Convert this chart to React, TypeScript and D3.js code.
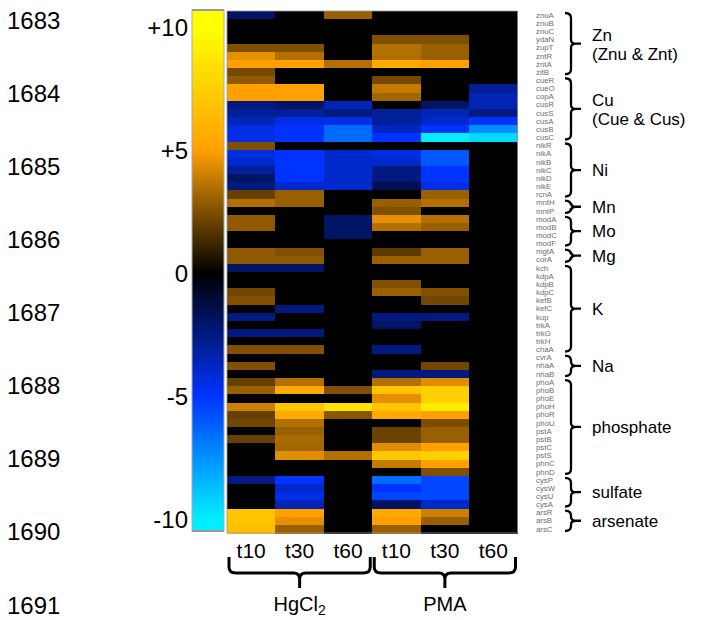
import React from "react";
import * as d3 from "d3";

// gene rows, top to bottom
const genes = [
  "znuA", "znuB", "znuC", "ydaN", "zupT", "zntR", "zntA", "zitB",
  "cueR", "cueO", "copA", "cusR", "cusS", "cusA", "cusB", "cusC",
  "nikR", "nikA", "nikB", "nikC", "nikD", "nikE", "rcnA",
  "mntH", "mntP",
  "modA", "modB", "modC", "modF",
  "mgtA", "corA",
  "kch", "kdpA", "kdpB", "kdpC", "kefB", "kefC", "kup", "trkA", "trkG", "trkH", "chaA",
  "cvrA", "nhaA", "nhaB",
  "phoA", "phoB", "phoE", "phoH", "phoR", "phoU", "pstA", "pstB", "pstC", "pstS", "phnC", "phnD",
  "cysP", "cysW", "cysU", "cysA",
  "arsR", "arsB", "arsC",
];

const conditions = ["Hg_t10", "Hg_t30", "Hg_t60", "PMA_t10", "PMA_t30", "PMA_t60"];
const timeLabels = ["t10", "t30", "t60", "t10", "t30", "t60"];
const treatments = ["HgCl2", "PMA"];

// fold change per column
const hg10 = [
  -2, 0, 0, 0, 2.5, 4.5, 5, 2.3, 2.8, 5, 5, -2.5, -3, -3.5, -4.5, -4.5,
  2.5, -4.5, -4, -3, -2, -2.5, 2, 3.5, 0, 2.8, 2.8, 0, 0, 2.8, 2.8, -2,
  0, 0, 2.2, 2.5, 0, -2.5, 0, -2.5, 0, 2.5, 0, 2.5, 0, 2, 3, 0,
  4, 2, 2.2, 0, 2, 0, 0, 0, 0, -2.5, 0, 0, 0, 7, 7, 6.5,
];
const hg30 = [
  0, 0, 0, 0, 2.5, 3.5, 5, 0, 0, 5, 5, -2, -3, -4.5, -5, -5,
  0, -5, -5, -5, -5, -4, 3, 3, 0, 0, 0, 0, 0, 2.5, 2.8, -2,
  0, 0, 0, 0, -2.5, 0, 0, -2.5, 0, 2.5, 0, 0, 0, 3.5, 5.5, 0,
  7, 5.5, 3.5, 3, 3.3, 3.2, 4.4, 0, 0, -5, -4, -4.5, -3.5, 5, 4.5, 3,
];
const hg60 = [
  3, 0, 0, 0, 0, 0, 3.5, 0, 0, 0, 0, -3.5, -2.5, -4.5, -6.5, -6.5,
  0, -4, -4, -4, -4, -4, 0, 0, 0, -2, -2, -2, 0, 0, 0, 0,
  0, 0, 0, 0, 0, 0, 0, 0, 0, 0, 0, 0, 0, 0, 2.5, 0,
  8.5, 2.7, 0, 0, 0, 0, 3.5, 0, 0, 0, 0, 0, 0, 0, 0, 0,
];
const pma10 = [
  0, 0, 0, 2.5, 3.5, 3.5, 5.5, 0, 2.3, 3.8, 3.2, 0, -3, -3, -3.8, -5,
  0, -4.5, -4, -2.5, -2.5, -1.5, 0, 3, 2.5, 4.5, 3.5, 0, 0, 1.8, 3, 0,
  0, 2.5, 3, 0, 0, -2.5, -2, 0, 0, -2.5, 0, 0, -2.5, 3.5, 7, 4.5,
  7, 5.5, 0, 2.1, 2.1, 4.4, 7, 3.8, 0, -6.5, -5, -5.5, -2, 5.5, 5, 3,
];
const pma30 = [
  0, 0, 0, 2.5, 3, 3, 5, 0, 0, 0, 0, -2, -3.5, -4, -5, -10,
  0, -6, -6, -5, -5, -4.5, 3, 3.5, 0, 3.5, 3, 0, 0, 3, 3, 0,
  0, 0, 2.5, 2.2, 0, -2.5, 0, 0, 0, 0, 0, 2.2, -2.5, 4.4, 7.5, 7.5,
  9, 5, 2.4, 3, 3, 5, 7.5, 5, 2.5, -5.5, -5.5, -5.5, -4, 4, 3, 0,
];
const pma60 = [
  0, 0, 0, 0, 0, 0, 0, 0, 0, -3, -3.5, -3.5, -2.5, -5, -7.5, -9.5,
  0, 0, 0, 0, 0, 0, 0, 0, 0, 0, 0, 0, 0, 0, 0, 0,
  0, 0, 0, 0, 0, 0, 0, 0, 0, 0, 0, 0, 0, 0, 0, 0,
  0, 0, 0, 0, 0, 0, 0, 0, 0, 0, 0, 0, 0, 0, 0, 0,
];
const columns = [hg10, hg30, hg60, pma10, pma30, pma60];

const groupLabels = [
  ["Zn", "(Znu & Znt)"], ["Cu", "(Cue & Cus)"], ["Ni"], ["Mn"], ["Mo"], ["Mg"],
  ["K"], ["Na"], ["phosphate"], ["sulfate"], ["arsenate"],
];
const groupSizes = [8, 8, 7, 2, 4, 2, 11, 3, 12, 4, 3];

const colorbarTicks = [10, 5, 0, -5, -10];
const colorbarTickLabels = ["+10", "+5", "0", "-5", "-10"];

const lineNumbers = ["1683", "1684", "1685", "1686", "1687", "1688", "1689", "1690", "1691"];

const FONT = "'Liberation Sans', Arial, sans-serif";

const color = d3
  .scaleLinear<string>()
  .domain([-10, -5, 0, 5, 10])
  .range(["#00eeff", "#0033ff", "#000000", "#ffa000", "#ffff00"])
  .clamp(true);

export default function App() {
  const x = d3.scaleBand().domain(conditions).range([227, 517.5]);
  const y = d3.scaleBand().domain(genes).range([11, 533]);
  const cb = d3.scaleLinear().domain([-10, 10]).range([519, 27]);
  const lineY = d3.scalePoint().domain(lineNumbers).range([20, 605]);

  // group row spans
  let start = 0;
  const groups = groupSizes.map((n, i) => {
    const g = { labels: groupLabels[i], y0: y(genes[start])!, y1: y(genes[start + n - 1])! + y.bandwidth() };
    start += n;
    return g;
  });

  // top (+10) to bottom (-10) so offsets increase
  const gradStops = d3.range(10, -10.01, -1);

  const brace = (y0: number, y1: number) => {
    const a = y0 + 2, b = y1 - 2, m = (a + b) / 2, vx = 571;
    return `M565,${a} Q${vx},${a} ${vx},${a + 5} L${vx},${m - 4} Q${vx},${m} ${vx + 5},${m} L581,${m}` +
      ` M${vx + 5},${m} Q${vx},${m} ${vx},${m + 4} L${vx},${b - 5} Q${vx},${b} 565,${b}`;
  };

  const bottomBrace = (x0: number, x1: number) => {
    const top = 557, h = 573, tip = 588, m = (x0 + x1) / 2;
    return `M${x0},${top} L${x0},${h - 6} Q${x0},${h} ${x0 + 7},${h} L${m - 6},${h} Q${m},${h} ${m},${h + 6} L${m},${tip}` +
      ` M${m},${h + 6} Q${m},${h} ${m + 6},${h} L${x1 - 7},${h} Q${x1},${h} ${x1},${h - 6} L${x1},${top}`;
  };

  return (
    <svg width={712} height={620} style={{ position: "absolute", left: 0, top: 0, background: "#fff" }} fontFamily={FONT}>
      <defs>
        <linearGradient id="cbar" gradientUnits="userSpaceOnUse" x1={0} x2={0} y1={cb(10)} y2={cb(-10)}>
          {gradStops.map((v) => (
            <stop key={v} offset={(10 - v) / 20} stopColor={color(v)} />
          ))}
        </linearGradient>
      </defs>

      {/* manuscript line numbers */}
      {lineNumbers.map((n) => (
        <text key={n} x={7} y={lineY(n)! + 8.5} fontSize={24} fill="#000">{n}</text>
      ))}

      {/* colour bar */}
      <rect x={192} y={10} width={32} height={521} fill="url(#cbar)" stroke="#aaa" strokeWidth={1} />
      <line x1={192} x2={224} y1={10} y2={10} stroke="#999" strokeWidth={2} />
      <line x1={192} x2={224} y1={531} y2={531} stroke="#999" strokeWidth={2} />
      {colorbarTicks.map((v, i) => (
        <text key={v} x={188} y={cb(v) + 8.5} fontSize={24} textAnchor="end">{colorbarTickLabels[i]}</text>
      ))}

      {/* heatmap */}
      <g shapeRendering="crispEdges">
        {columns.map((col, ci) =>
          col.map((v, ri) => (
            <rect
              key={`${ci}-${ri}`}
              x={x(conditions[ci])}
              y={y(genes[ri])}
              width={x.bandwidth() + 0.5}
              height={y.bandwidth() + 0.5}
              fill={color(v)}
            />
          ))
        )}
      </g>
      <rect x={227} y={11} width={290.5} height={522} fill="none" stroke="#999" strokeWidth={0.8} />

      {/* gene labels */}
      {genes.map((g) => (
        <text key={g} x={536} y={y(g)! + y.bandwidth() / 2 + 2.7} fontSize={7.8} fill="#6e6e6e">{g}</text>
      ))}

      {/* group braces */}
      {groups.map((g, i) => {
        const m = (g.y0 + g.y1) / 2;
        return (
          <g key={i}>
            <path d={brace(g.y0, g.y1)} fill="none" stroke="#000" strokeWidth={2.3} />
            {g.labels.length === 2 ? (
              <>
                <text x={592} y={m - 3} fontSize={17}>{g.labels[0]}</text>
                <text x={592} y={m + 16} fontSize={17}>{g.labels[1]}</text>
              </>
            ) : (
              <text x={592} y={m + 6} fontSize={17}>{g.labels[0]}</text>
            )}
          </g>
        );
      })}

      {/* column labels */}
      {conditions.map((c, i) => (
        <text key={c} x={x(c)! + x.bandwidth() / 2} y={558} fontSize={21} textAnchor="middle">{timeLabels[i]}</text>
      ))}

      {/* treatment braces */}
      {treatments.map((t, i) => {
        const x0 = x(conditions[i * 3])! + 2;
        const x1 = x(conditions[i * 3 + 2])! + x.bandwidth() - 2;
        const m = (x0 + x1) / 2;
        return (
          <g key={t}>
            <path d={bottomBrace(x0, x1)} fill="none" stroke="#000" strokeWidth={3} />
            {t === "HgCl2" ? (
              <text x={m} y={611} fontSize={20} textAnchor="middle">
                HgCl<tspan fontSize={14} dy={4}>2</tspan>
              </text>
            ) : (
              <text x={m} y={611} fontSize={20} textAnchor="middle">{t}</text>
            )}
          </g>
        );
      })}
    </svg>
  );
}
